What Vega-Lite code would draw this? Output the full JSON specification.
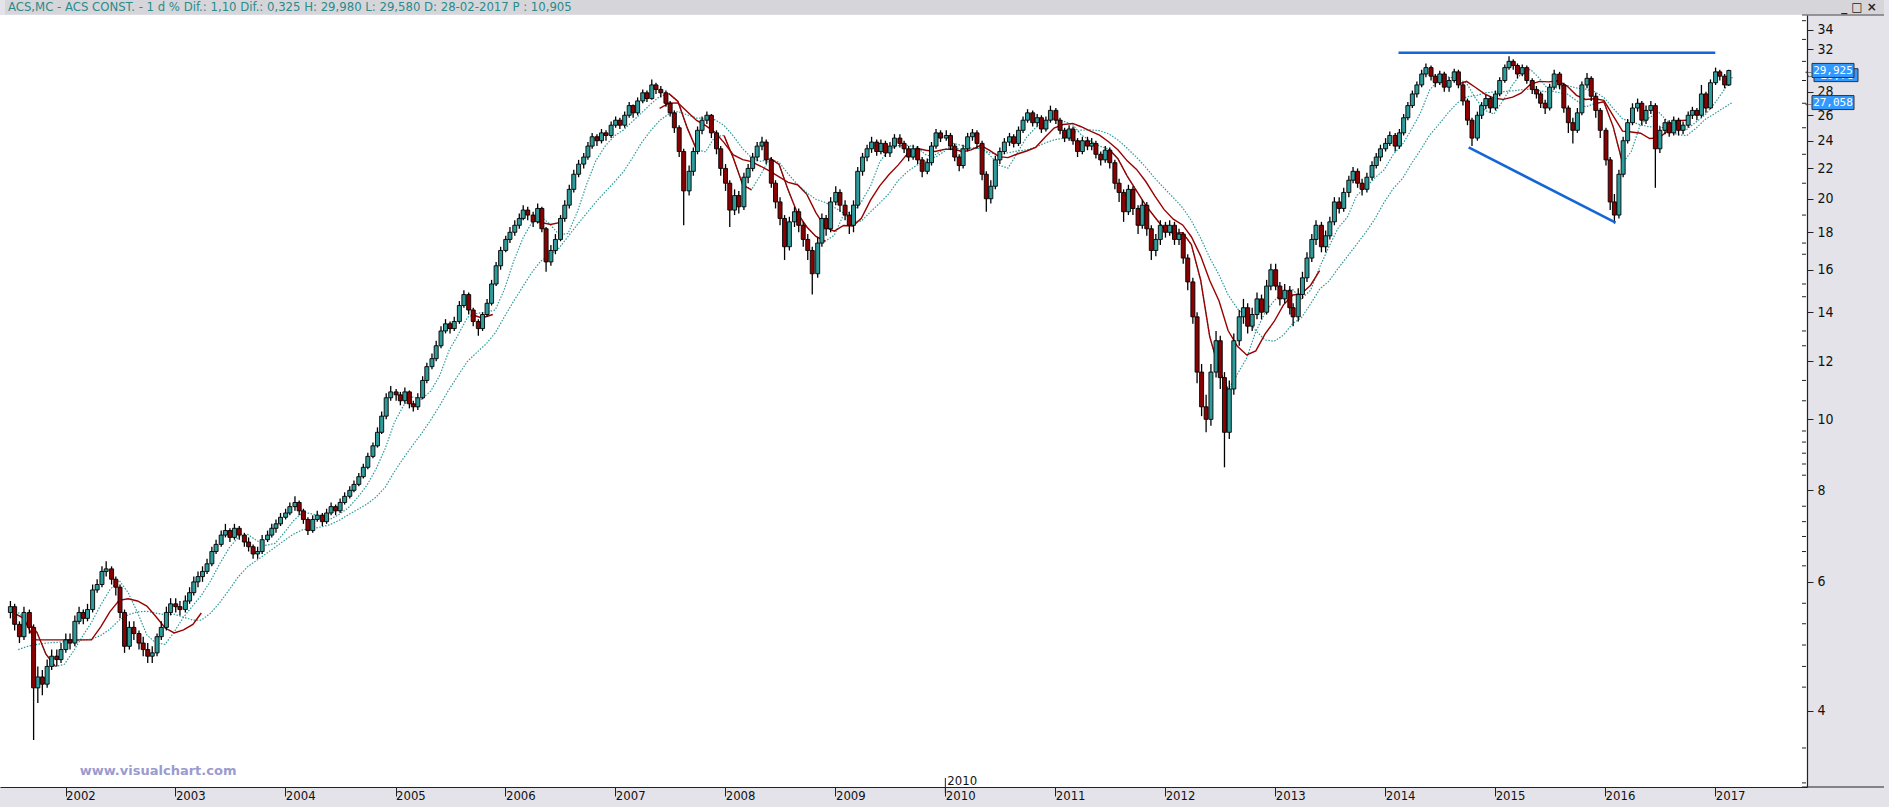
{
"$schema":"https://vega.github.io/schema/vega-lite/v6.json",
"width":1807,"height":772,"autosize":"none",
"padding":{"left":0,"top":15,"right":82,"bottom":20},
"background":"#e4e3ea",
"config":{"view":{"fill":"#ffffff","stroke":null}},
"data":{"values":[{}]},
"datasets":{
"k":[
{"d":"2001-07-02","o":5.45,"h":5.65,"l":5.35,"c":5.55},
{"d":"2001-07-16","o":5.55,"h":5.6,"l":5.15,"c":5.25},
{"d":"2001-08-01","o":5.25,"h":5.3,"l":4.95,"c":5.05},
{"d":"2001-08-16","o":5.05,"h":5.55,"l":5.0,"c":5.45},
{"d":"2001-09-03","o":5.45,"h":5.5,"l":5.1,"c":5.2},
{"d":"2001-09-17","o":5.2,"h":5.25,"l":3.65,"c":4.3},
{"d":"2001-10-01","o":4.3,"h":4.6,"l":4.1,"c":4.45},
{"d":"2001-10-16","o":4.45,"h":4.55,"l":4.2,"c":4.35},
{"d":"2001-11-01","o":4.35,"h":4.7,"l":4.3,"c":4.6},
{"d":"2001-11-16","o":4.6,"h":4.85,"l":4.55,"c":4.75},
{"d":"2001-12-03","o":4.75,"h":4.85,"l":4.6,"c":4.7},
{"d":"2001-12-17","o":4.7,"h":4.95,"l":4.65,"c":4.85},
{"d":"2002-01-02","o":4.85,"h":5.1,"l":4.8,"c":5.0},
{"d":"2002-01-16","o":5.0,"h":5.1,"l":4.85,"c":4.95},
{"d":"2002-02-01","o":4.95,"h":5.4,"l":4.9,"c":5.3},
{"d":"2002-02-15","o":5.3,"h":5.55,"l":5.25,"c":5.45},
{"d":"2002-03-01","o":5.45,"h":5.5,"l":5.25,"c":5.35},
{"d":"2002-03-15","o":5.35,"h":5.6,"l":5.3,"c":5.5},
{"d":"2002-04-01","o":5.5,"h":5.95,"l":5.45,"c":5.85},
{"d":"2002-04-16","o":5.85,"h":6.05,"l":5.8,"c":5.95},
{"d":"2002-05-02","o":5.95,"h":6.3,"l":5.9,"c":6.2},
{"d":"2002-05-16","o":6.2,"h":6.4,"l":6.1,"c":6.25},
{"d":"2002-06-03","o":6.25,"h":6.3,"l":5.95,"c":6.05},
{"d":"2002-06-17","o":6.05,"h":6.1,"l":5.75,"c":5.9},
{"d":"2002-07-01","o":5.9,"h":5.95,"l":5.35,"c":5.45},
{"d":"2002-07-16","o":5.45,"h":5.5,"l":4.8,"c":4.9},
{"d":"2002-08-01","o":4.9,"h":5.3,"l":4.85,"c":5.2},
{"d":"2002-08-16","o":5.2,"h":5.3,"l":5.0,"c":5.1},
{"d":"2002-09-02","o":5.1,"h":5.15,"l":4.85,"c":4.95},
{"d":"2002-09-16","o":4.95,"h":5.05,"l":4.75,"c":4.85},
{"d":"2002-10-01","o":4.85,"h":4.95,"l":4.65,"c":4.75},
{"d":"2002-10-16","o":4.75,"h":4.9,"l":4.65,"c":4.8},
{"d":"2002-11-01","o":4.8,"h":5.1,"l":4.75,"c":5.05},
{"d":"2002-11-15","o":5.05,"h":5.3,"l":5.0,"c":5.2},
{"d":"2002-12-02","o":5.2,"h":5.55,"l":5.15,"c":5.45},
{"d":"2002-12-16","o":5.45,"h":5.7,"l":5.4,"c":5.6},
{"d":"2003-01-02","o":5.6,"h":5.7,"l":5.45,"c":5.55},
{"d":"2003-01-16","o":5.55,"h":5.65,"l":5.4,"c":5.5},
{"d":"2003-02-03","o":5.5,"h":5.75,"l":5.45,"c":5.65},
{"d":"2003-02-17","o":5.65,"h":5.9,"l":5.6,"c":5.8},
{"d":"2003-03-03","o":5.8,"h":6.1,"l":5.75,"c":6.0},
{"d":"2003-03-17","o":6.0,"h":6.2,"l":5.9,"c":6.1},
{"d":"2003-04-01","o":6.1,"h":6.3,"l":6.0,"c":6.2},
{"d":"2003-04-16","o":6.2,"h":6.45,"l":6.15,"c":6.35},
{"d":"2003-05-02","o":6.35,"h":6.7,"l":6.3,"c":6.6},
{"d":"2003-05-16","o":6.6,"h":6.85,"l":6.55,"c":6.75},
{"d":"2003-06-02","o":6.75,"h":7.05,"l":6.7,"c":6.95},
{"d":"2003-06-16","o":6.95,"h":7.2,"l":6.9,"c":7.05},
{"d":"2003-07-01","o":7.05,"h":7.1,"l":6.8,"c":6.9},
{"d":"2003-07-16","o":6.9,"h":7.2,"l":6.85,"c":7.1},
{"d":"2003-08-01","o":7.1,"h":7.15,"l":6.85,"c":6.95},
{"d":"2003-08-18","o":6.95,"h":7.0,"l":6.7,"c":6.8},
{"d":"2003-09-01","o":6.8,"h":6.9,"l":6.6,"c":6.7},
{"d":"2003-09-16","o":6.7,"h":6.75,"l":6.45,"c":6.55},
{"d":"2003-10-01","o":6.55,"h":6.7,"l":6.45,"c":6.6},
{"d":"2003-10-16","o":6.6,"h":6.95,"l":6.55,"c":6.85},
{"d":"2003-11-03","o":6.85,"h":7.05,"l":6.8,"c":6.95},
{"d":"2003-11-17","o":6.95,"h":7.2,"l":6.9,"c":7.1},
{"d":"2003-12-01","o":7.1,"h":7.3,"l":7.0,"c":7.2},
{"d":"2003-12-16","o":7.2,"h":7.45,"l":7.15,"c":7.35},
{"d":"2004-01-02","o":7.35,"h":7.55,"l":7.3,"c":7.45},
{"d":"2004-01-16","o":7.45,"h":7.7,"l":7.4,"c":7.6},
{"d":"2004-02-02","o":7.6,"h":7.85,"l":7.5,"c":7.7},
{"d":"2004-02-16","o":7.7,"h":7.75,"l":7.4,"c":7.5},
{"d":"2004-03-01","o":7.5,"h":7.55,"l":7.2,"c":7.3},
{"d":"2004-03-16","o":7.3,"h":7.35,"l":6.95,"c":7.05},
{"d":"2004-04-01","o":7.05,"h":7.4,"l":7.0,"c":7.3},
{"d":"2004-04-16","o":7.3,"h":7.5,"l":7.25,"c":7.4},
{"d":"2004-05-03","o":7.4,"h":7.45,"l":7.15,"c":7.25},
{"d":"2004-05-17","o":7.25,"h":7.55,"l":7.2,"c":7.45},
{"d":"2004-06-01","o":7.45,"h":7.7,"l":7.4,"c":7.6},
{"d":"2004-06-16","o":7.6,"h":7.65,"l":7.4,"c":7.5},
{"d":"2004-07-01","o":7.5,"h":7.8,"l":7.45,"c":7.7},
{"d":"2004-07-16","o":7.7,"h":7.95,"l":7.65,"c":7.85},
{"d":"2004-08-02","o":7.85,"h":8.1,"l":7.8,"c":8.0},
{"d":"2004-08-16","o":8.0,"h":8.25,"l":7.95,"c":8.15},
{"d":"2004-09-01","o":8.15,"h":8.45,"l":8.1,"c":8.35},
{"d":"2004-09-16","o":8.35,"h":8.7,"l":8.3,"c":8.6},
{"d":"2004-10-01","o":8.6,"h":9.0,"l":8.55,"c":8.9},
{"d":"2004-10-18","o":8.9,"h":9.3,"l":8.85,"c":9.2},
{"d":"2004-11-02","o":9.2,"h":9.75,"l":9.15,"c":9.6},
{"d":"2004-11-16","o":9.6,"h":10.25,"l":9.55,"c":10.1},
{"d":"2004-12-01","o":10.1,"h":10.85,"l":10.0,"c":10.7},
{"d":"2004-12-16","o":10.7,"h":11.1,"l":10.6,"c":10.9},
{"d":"2005-01-03","o":10.9,"h":11.0,"l":10.6,"c":10.8},
{"d":"2005-01-17","o":10.8,"h":10.9,"l":10.45,"c":10.6},
{"d":"2005-02-01","o":10.6,"h":11.05,"l":10.5,"c":10.9},
{"d":"2005-02-16","o":10.9,"h":10.95,"l":10.35,"c":10.5},
{"d":"2005-03-01","o":10.5,"h":10.6,"l":10.25,"c":10.4},
{"d":"2005-03-16","o":10.4,"h":10.85,"l":10.3,"c":10.7},
{"d":"2005-04-01","o":10.7,"h":11.45,"l":10.65,"c":11.3},
{"d":"2005-04-15","o":11.3,"h":11.95,"l":11.2,"c":11.8},
{"d":"2005-05-02","o":11.8,"h":12.3,"l":11.7,"c":12.1},
{"d":"2005-05-16","o":12.1,"h":12.8,"l":12.0,"c":12.6},
{"d":"2005-06-01","o":12.6,"h":13.4,"l":12.5,"c":13.2},
{"d":"2005-06-16","o":13.2,"h":13.7,"l":13.1,"c":13.5},
{"d":"2005-07-01","o":13.5,"h":13.6,"l":13.1,"c":13.3},
{"d":"2005-07-15","o":13.3,"h":13.8,"l":13.2,"c":13.6},
{"d":"2005-08-01","o":13.6,"h":14.5,"l":13.5,"c":14.3},
{"d":"2005-08-16","o":14.3,"h":15.0,"l":14.2,"c":14.8},
{"d":"2005-09-01","o":14.8,"h":14.9,"l":13.9,"c":14.1},
{"d":"2005-09-16","o":14.1,"h":14.2,"l":13.4,"c":13.6},
{"d":"2005-10-03","o":13.6,"h":13.7,"l":13.0,"c":13.3},
{"d":"2005-10-17","o":13.3,"h":14.0,"l":13.2,"c":13.9},
{"d":"2005-11-01","o":13.9,"h":14.6,"l":13.8,"c":14.4},
{"d":"2005-11-16","o":14.4,"h":15.5,"l":14.3,"c":15.3},
{"d":"2005-12-01","o":15.3,"h":16.4,"l":15.2,"c":16.2},
{"d":"2005-12-16","o":16.2,"h":17.2,"l":16.0,"c":17.0},
{"d":"2006-01-02","o":17.0,"h":17.8,"l":16.9,"c":17.6},
{"d":"2006-01-16","o":17.6,"h":18.3,"l":17.4,"c":18.0},
{"d":"2006-02-01","o":18.0,"h":18.7,"l":17.8,"c":18.4},
{"d":"2006-02-16","o":18.4,"h":19.1,"l":18.2,"c":18.8},
{"d":"2006-03-01","o":18.8,"h":19.6,"l":18.7,"c":19.3},
{"d":"2006-03-16","o":19.3,"h":19.5,"l":18.7,"c":19.0},
{"d":"2006-04-03","o":19.0,"h":19.2,"l":18.3,"c":18.6},
{"d":"2006-04-18","o":18.6,"h":19.7,"l":18.5,"c":19.4},
{"d":"2006-05-02","o":19.4,"h":19.5,"l":18.0,"c":18.2},
{"d":"2006-05-16","o":18.2,"h":18.3,"l":15.9,"c":16.4},
{"d":"2006-06-01","o":16.4,"h":17.3,"l":16.2,"c":17.0},
{"d":"2006-06-16","o":17.0,"h":17.9,"l":16.8,"c":17.6},
{"d":"2006-07-03","o":17.6,"h":19.0,"l":17.5,"c":18.8},
{"d":"2006-07-17","o":18.8,"h":19.9,"l":18.6,"c":19.6},
{"d":"2006-08-01","o":19.6,"h":20.9,"l":19.4,"c":20.6},
{"d":"2006-08-16","o":20.6,"h":21.9,"l":20.4,"c":21.6},
{"d":"2006-09-01","o":21.6,"h":22.6,"l":21.4,"c":22.3},
{"d":"2006-09-18","o":22.3,"h":23.1,"l":22.0,"c":22.8},
{"d":"2006-10-02","o":22.8,"h":23.9,"l":22.6,"c":23.6},
{"d":"2006-10-16","o":23.6,"h":24.6,"l":23.4,"c":24.3},
{"d":"2006-11-01","o":24.3,"h":24.5,"l":23.6,"c":24.0},
{"d":"2006-11-16","o":24.0,"h":24.9,"l":23.8,"c":24.6},
{"d":"2006-12-01","o":24.6,"h":24.8,"l":24.0,"c":24.4},
{"d":"2006-12-18","o":24.4,"h":25.5,"l":24.2,"c":25.2},
{"d":"2007-01-02","o":25.2,"h":25.9,"l":25.0,"c":25.6},
{"d":"2007-01-16","o":25.6,"h":25.8,"l":24.9,"c":25.2},
{"d":"2007-02-01","o":25.2,"h":26.3,"l":25.0,"c":26.0},
{"d":"2007-02-16","o":26.0,"h":27.1,"l":25.8,"c":26.8},
{"d":"2007-03-01","o":26.8,"h":26.9,"l":25.8,"c":26.2},
{"d":"2007-03-16","o":26.2,"h":27.5,"l":26.0,"c":27.2},
{"d":"2007-04-02","o":27.2,"h":28.2,"l":27.0,"c":27.9},
{"d":"2007-04-16","o":27.9,"h":28.1,"l":27.1,"c":27.4},
{"d":"2007-05-02","o":27.4,"h":29.1,"l":27.3,"c":28.6},
{"d":"2007-05-16","o":28.6,"h":28.8,"l":27.8,"c":28.2},
{"d":"2007-06-01","o":28.2,"h":28.5,"l":27.5,"c":27.9},
{"d":"2007-06-18","o":27.9,"h":28.1,"l":26.7,"c":27.0},
{"d":"2007-07-02","o":27.0,"h":27.2,"l":25.9,"c":26.2},
{"d":"2007-07-16","o":26.2,"h":26.4,"l":24.6,"c":25.0},
{"d":"2007-08-01","o":25.0,"h":25.2,"l":22.8,"c":23.2},
{"d":"2007-08-16","o":23.2,"h":23.4,"l":18.4,"c":20.5},
{"d":"2007-09-03","o":20.5,"h":22.2,"l":20.2,"c":21.8},
{"d":"2007-09-17","o":21.8,"h":23.5,"l":21.5,"c":23.2},
{"d":"2007-10-01","o":23.2,"h":25.1,"l":23.0,"c":24.8},
{"d":"2007-10-16","o":24.8,"h":25.9,"l":24.5,"c":25.6},
{"d":"2007-11-01","o":25.6,"h":26.3,"l":25.3,"c":26.0},
{"d":"2007-11-16","o":26.0,"h":26.1,"l":24.2,"c":24.6},
{"d":"2007-12-03","o":24.6,"h":24.8,"l":23.0,"c":23.4},
{"d":"2007-12-17","o":23.4,"h":23.6,"l":21.5,"c":22.0},
{"d":"2008-01-02","o":22.0,"h":22.3,"l":20.5,"c":21.0},
{"d":"2008-01-16","o":21.0,"h":21.2,"l":18.3,"c":19.3},
{"d":"2008-02-01","o":19.3,"h":20.6,"l":19.0,"c":20.2},
{"d":"2008-02-15","o":20.2,"h":20.5,"l":19.1,"c":19.5},
{"d":"2008-03-03","o":19.5,"h":21.7,"l":19.3,"c":21.4},
{"d":"2008-03-17","o":21.4,"h":22.3,"l":21.0,"c":22.0},
{"d":"2008-04-01","o":22.0,"h":23.1,"l":21.8,"c":22.8},
{"d":"2008-04-16","o":22.8,"h":23.9,"l":22.5,"c":23.6},
{"d":"2008-05-02","o":23.6,"h":24.3,"l":23.3,"c":23.9},
{"d":"2008-05-16","o":23.9,"h":24.1,"l":22.3,"c":22.6},
{"d":"2008-06-02","o":22.6,"h":22.8,"l":20.7,"c":21.0},
{"d":"2008-06-16","o":21.0,"h":21.2,"l":19.4,"c":19.8},
{"d":"2008-07-01","o":19.8,"h":20.1,"l":18.4,"c":18.8},
{"d":"2008-07-16","o":18.8,"h":19.0,"l":16.5,"c":17.2},
{"d":"2008-08-01","o":17.2,"h":18.9,"l":17.0,"c":18.6},
{"d":"2008-08-18","o":18.6,"h":19.5,"l":18.3,"c":19.2},
{"d":"2008-09-01","o":19.2,"h":19.4,"l":18.0,"c":18.4},
{"d":"2008-09-16","o":18.4,"h":18.6,"l":17.2,"c":17.6},
{"d":"2008-10-01","o":17.6,"h":17.9,"l":16.5,"c":17.0},
{"d":"2008-10-16","o":17.0,"h":17.2,"l":14.8,"c":15.8},
{"d":"2008-11-03","o":15.8,"h":17.7,"l":15.6,"c":17.4},
{"d":"2008-11-17","o":17.4,"h":19.1,"l":17.2,"c":18.8},
{"d":"2008-12-01","o":18.8,"h":19.0,"l":17.8,"c":18.2},
{"d":"2008-12-16","o":18.2,"h":20.1,"l":18.0,"c":19.8},
{"d":"2009-01-02","o":19.8,"h":20.8,"l":19.6,"c":20.4},
{"d":"2009-01-16","o":20.4,"h":20.6,"l":19.2,"c":19.6},
{"d":"2009-02-02","o":19.6,"h":19.9,"l":18.7,"c":19.0},
{"d":"2009-02-16","o":19.0,"h":19.2,"l":17.9,"c":18.4},
{"d":"2009-03-02","o":18.4,"h":19.9,"l":18.0,"c":19.6},
{"d":"2009-03-16","o":19.6,"h":22.1,"l":19.4,"c":21.8},
{"d":"2009-04-01","o":21.8,"h":23.1,"l":21.5,"c":22.8},
{"d":"2009-04-16","o":22.8,"h":23.7,"l":22.5,"c":23.4},
{"d":"2009-05-01","o":23.4,"h":24.3,"l":23.1,"c":23.9},
{"d":"2009-05-18","o":23.9,"h":24.1,"l":22.9,"c":23.2},
{"d":"2009-06-01","o":23.2,"h":24.1,"l":23.0,"c":23.8},
{"d":"2009-06-16","o":23.8,"h":24.0,"l":22.8,"c":23.1},
{"d":"2009-07-01","o":23.1,"h":23.9,"l":22.8,"c":23.6},
{"d":"2009-07-16","o":23.6,"h":24.5,"l":23.4,"c":24.2},
{"d":"2009-08-03","o":24.2,"h":24.5,"l":23.5,"c":23.8},
{"d":"2009-08-17","o":23.8,"h":24.0,"l":23.1,"c":23.4},
{"d":"2009-09-01","o":23.4,"h":23.6,"l":22.5,"c":22.8},
{"d":"2009-09-16","o":22.8,"h":23.7,"l":22.6,"c":23.4},
{"d":"2009-10-01","o":23.4,"h":23.6,"l":22.3,"c":22.6},
{"d":"2009-10-16","o":22.6,"h":22.8,"l":21.4,"c":21.8},
{"d":"2009-11-02","o":21.8,"h":22.7,"l":21.6,"c":22.4},
{"d":"2009-11-16","o":22.4,"h":23.9,"l":22.2,"c":23.6},
{"d":"2009-12-01","o":23.6,"h":24.9,"l":23.4,"c":24.6},
{"d":"2009-12-16","o":24.6,"h":24.8,"l":23.9,"c":24.2},
{"d":"2010-01-04","o":24.2,"h":24.8,"l":24.0,"c":24.4},
{"d":"2010-01-18","o":24.4,"h":24.6,"l":23.3,"c":23.6},
{"d":"2010-02-01","o":23.6,"h":23.8,"l":22.5,"c":22.8},
{"d":"2010-02-16","o":22.8,"h":23.0,"l":21.8,"c":22.2},
{"d":"2010-03-01","o":22.2,"h":23.7,"l":22.0,"c":23.4},
{"d":"2010-03-16","o":23.4,"h":24.6,"l":23.2,"c":24.3},
{"d":"2010-04-01","o":24.3,"h":24.9,"l":24.0,"c":24.6},
{"d":"2010-04-16","o":24.6,"h":24.8,"l":23.4,"c":23.8},
{"d":"2010-05-03","o":23.8,"h":24.0,"l":21.2,"c":21.6},
{"d":"2010-05-17","o":21.6,"h":21.8,"l":19.2,"c":20.0},
{"d":"2010-06-01","o":20.0,"h":21.2,"l":19.7,"c":20.8},
{"d":"2010-06-16","o":20.8,"h":22.9,"l":20.6,"c":22.6},
{"d":"2010-07-01","o":22.6,"h":23.5,"l":22.3,"c":23.2},
{"d":"2010-07-16","o":23.2,"h":24.2,"l":23.0,"c":23.9},
{"d":"2010-08-02","o":23.9,"h":24.6,"l":23.6,"c":24.3},
{"d":"2010-08-16","o":24.3,"h":24.5,"l":23.5,"c":23.8},
{"d":"2010-09-01","o":23.8,"h":25.1,"l":23.6,"c":24.8},
{"d":"2010-09-16","o":24.8,"h":25.9,"l":24.6,"c":25.6},
{"d":"2010-10-01","o":25.6,"h":26.5,"l":25.4,"c":26.2},
{"d":"2010-10-18","o":26.2,"h":26.4,"l":25.1,"c":25.4},
{"d":"2010-11-02","o":25.4,"h":26.1,"l":25.1,"c":25.8},
{"d":"2010-11-16","o":25.8,"h":26.0,"l":24.6,"c":24.9},
{"d":"2010-12-01","o":24.9,"h":25.9,"l":24.7,"c":25.6},
{"d":"2010-12-16","o":25.6,"h":26.8,"l":25.4,"c":26.4},
{"d":"2011-01-03","o":26.4,"h":26.6,"l":25.3,"c":25.6},
{"d":"2011-01-17","o":25.6,"h":25.8,"l":24.5,"c":24.8},
{"d":"2011-02-01","o":24.8,"h":25.0,"l":23.9,"c":24.2},
{"d":"2011-02-16","o":24.2,"h":25.2,"l":24.0,"c":24.9},
{"d":"2011-03-01","o":24.9,"h":25.1,"l":23.7,"c":24.0},
{"d":"2011-03-16","o":24.0,"h":24.2,"l":22.8,"c":23.2},
{"d":"2011-04-01","o":23.2,"h":24.3,"l":23.0,"c":24.0},
{"d":"2011-04-18","o":24.0,"h":24.3,"l":23.3,"c":23.6},
{"d":"2011-05-02","o":23.6,"h":24.2,"l":23.3,"c":23.8},
{"d":"2011-05-16","o":23.8,"h":24.0,"l":22.7,"c":23.0},
{"d":"2011-06-01","o":23.0,"h":23.2,"l":22.2,"c":22.6},
{"d":"2011-06-16","o":22.6,"h":23.6,"l":22.4,"c":23.3},
{"d":"2011-07-01","o":23.3,"h":23.5,"l":22.0,"c":22.4},
{"d":"2011-07-18","o":22.4,"h":22.6,"l":20.6,"c":21.0},
{"d":"2011-08-01","o":21.0,"h":21.3,"l":19.8,"c":20.4},
{"d":"2011-08-16","o":20.4,"h":20.6,"l":18.6,"c":19.2},
{"d":"2011-09-01","o":19.2,"h":20.9,"l":19.0,"c":20.6},
{"d":"2011-09-16","o":20.6,"h":20.8,"l":19.0,"c":19.4},
{"d":"2011-10-03","o":19.4,"h":19.6,"l":17.9,"c":18.4},
{"d":"2011-10-17","o":18.4,"h":19.9,"l":18.2,"c":19.6},
{"d":"2011-11-01","o":19.6,"h":19.8,"l":17.8,"c":18.2},
{"d":"2011-11-16","o":18.2,"h":18.4,"l":16.5,"c":17.0},
{"d":"2011-12-01","o":17.0,"h":17.9,"l":16.7,"c":17.6},
{"d":"2011-12-16","o":17.6,"h":18.7,"l":17.3,"c":18.4},
{"d":"2012-01-02","o":18.4,"h":18.6,"l":17.7,"c":18.0},
{"d":"2012-01-16","o":18.0,"h":18.7,"l":17.8,"c":18.4},
{"d":"2012-02-01","o":18.4,"h":18.6,"l":17.3,"c":17.6},
{"d":"2012-02-16","o":17.6,"h":18.2,"l":17.3,"c":17.9},
{"d":"2012-03-01","o":17.9,"h":18.0,"l":16.3,"c":16.6},
{"d":"2012-03-16","o":16.6,"h":16.8,"l":15.0,"c":15.4},
{"d":"2012-04-02","o":15.4,"h":15.6,"l":13.5,"c":13.8},
{"d":"2012-04-16","o":13.8,"h":14.0,"l":11.2,"c":11.6},
{"d":"2012-05-01","o":11.6,"h":11.9,"l":10.1,"c":10.4},
{"d":"2012-05-16","o":10.4,"h":10.8,"l":9.6,"c":10.0},
{"d":"2012-06-01","o":10.0,"h":11.9,"l":9.8,"c":11.6},
{"d":"2012-06-18","o":11.6,"h":13.2,"l":11.4,"c":12.8},
{"d":"2012-07-02","o":12.8,"h":13.0,"l":11.0,"c":11.4},
{"d":"2012-07-16","o":11.4,"h":11.6,"l":8.6,"c":9.6},
{"d":"2012-08-01","o":9.6,"h":11.3,"l":9.4,"c":11.0},
{"d":"2012-08-16","o":11.0,"h":13.1,"l":10.8,"c":12.8},
{"d":"2012-09-03","o":12.8,"h":14.1,"l":12.6,"c":13.8},
{"d":"2012-09-17","o":13.8,"h":14.6,"l":13.5,"c":14.2},
{"d":"2012-10-01","o":14.2,"h":14.4,"l":13.1,"c":13.4},
{"d":"2012-10-16","o":13.4,"h":14.2,"l":13.2,"c":13.9},
{"d":"2012-11-01","o":13.9,"h":14.9,"l":13.7,"c":14.6},
{"d":"2012-11-16","o":14.6,"h":14.8,"l":13.7,"c":14.0},
{"d":"2012-12-03","o":14.0,"h":15.5,"l":13.9,"c":15.2},
{"d":"2012-12-17","o":15.2,"h":16.3,"l":15.0,"c":16.0},
{"d":"2013-01-02","o":16.0,"h":16.3,"l":15.0,"c":15.2},
{"d":"2013-01-16","o":15.2,"h":15.4,"l":14.3,"c":14.6},
{"d":"2013-02-01","o":14.6,"h":15.3,"l":14.4,"c":15.0},
{"d":"2013-02-18","o":15.0,"h":15.2,"l":13.9,"c":14.2},
{"d":"2013-03-01","o":14.2,"h":14.4,"l":13.4,"c":13.8},
{"d":"2013-03-18","o":13.8,"h":15.1,"l":13.6,"c":14.8},
{"d":"2013-04-01","o":14.8,"h":15.9,"l":14.6,"c":15.6},
{"d":"2013-04-16","o":15.6,"h":16.9,"l":15.4,"c":16.6},
{"d":"2013-05-02","o":16.6,"h":17.9,"l":16.4,"c":17.6},
{"d":"2013-05-16","o":17.6,"h":18.7,"l":17.3,"c":18.4},
{"d":"2013-06-03","o":18.4,"h":18.6,"l":16.9,"c":17.2},
{"d":"2013-06-17","o":17.2,"h":18.1,"l":16.9,"c":17.8},
{"d":"2013-07-01","o":17.8,"h":18.9,"l":17.6,"c":18.6},
{"d":"2013-07-16","o":18.6,"h":20.1,"l":18.4,"c":19.8},
{"d":"2013-08-01","o":19.8,"h":20.1,"l":19.1,"c":19.4},
{"d":"2013-08-16","o":19.4,"h":20.7,"l":19.2,"c":20.4},
{"d":"2013-09-02","o":20.4,"h":21.5,"l":20.1,"c":21.2},
{"d":"2013-09-16","o":21.2,"h":22.1,"l":21.0,"c":21.8},
{"d":"2013-10-01","o":21.8,"h":22.0,"l":20.7,"c":21.0},
{"d":"2013-10-16","o":21.0,"h":21.3,"l":20.2,"c":20.6},
{"d":"2013-11-01","o":20.6,"h":21.7,"l":20.4,"c":21.4},
{"d":"2013-11-18","o":21.4,"h":22.5,"l":21.2,"c":22.2},
{"d":"2013-12-02","o":22.2,"h":23.1,"l":22.0,"c":22.8},
{"d":"2013-12-16","o":22.8,"h":23.7,"l":22.5,"c":23.4},
{"d":"2014-01-02","o":23.4,"h":24.2,"l":23.2,"c":23.8},
{"d":"2014-01-16","o":23.8,"h":24.7,"l":23.6,"c":24.4},
{"d":"2014-02-03","o":24.4,"h":24.6,"l":23.2,"c":23.6},
{"d":"2014-02-17","o":23.6,"h":24.9,"l":23.4,"c":24.6},
{"d":"2014-03-03","o":24.6,"h":26.1,"l":24.4,"c":25.8},
{"d":"2014-03-17","o":25.8,"h":27.1,"l":25.6,"c":26.8},
{"d":"2014-04-01","o":26.8,"h":28.1,"l":26.6,"c":27.8},
{"d":"2014-04-16","o":27.8,"h":28.9,"l":27.5,"c":28.6},
{"d":"2014-05-02","o":28.6,"h":30.0,"l":28.4,"c":29.6},
{"d":"2014-05-16","o":29.6,"h":30.6,"l":29.3,"c":30.2},
{"d":"2014-06-02","o":30.2,"h":30.4,"l":29.0,"c":29.4},
{"d":"2014-06-16","o":29.4,"h":29.6,"l":28.4,"c":28.8},
{"d":"2014-07-01","o":28.8,"h":29.9,"l":28.6,"c":29.6},
{"d":"2014-07-16","o":29.6,"h":29.8,"l":28.0,"c":28.4},
{"d":"2014-08-01","o":28.4,"h":29.3,"l":28.0,"c":29.0},
{"d":"2014-08-18","o":29.0,"h":30.1,"l":28.8,"c":29.8},
{"d":"2014-09-01","o":29.8,"h":30.0,"l":28.3,"c":28.6},
{"d":"2014-09-16","o":28.6,"h":28.8,"l":26.8,"c":27.2},
{"d":"2014-10-01","o":27.2,"h":27.4,"l":25.2,"c":25.6},
{"d":"2014-10-16","o":25.6,"h":25.8,"l":23.6,"c":24.2},
{"d":"2014-11-03","o":24.2,"h":26.3,"l":24.0,"c":26.0},
{"d":"2014-11-17","o":26.0,"h":27.1,"l":25.7,"c":26.8},
{"d":"2014-12-01","o":26.8,"h":27.7,"l":26.5,"c":27.4},
{"d":"2014-12-16","o":27.4,"h":27.6,"l":26.2,"c":26.6},
{"d":"2015-01-02","o":26.6,"h":28.1,"l":26.4,"c":27.8},
{"d":"2015-01-16","o":27.8,"h":29.3,"l":27.6,"c":29.0},
{"d":"2015-02-02","o":29.0,"h":30.5,"l":28.8,"c":30.2},
{"d":"2015-02-16","o":30.2,"h":31.3,"l":30.0,"c":30.8},
{"d":"2015-03-02","o":30.8,"h":31.0,"l":30.0,"c":30.4},
{"d":"2015-03-16","o":30.4,"h":30.6,"l":29.2,"c":29.6},
{"d":"2015-04-01","o":29.6,"h":30.5,"l":29.4,"c":30.2},
{"d":"2015-04-16","o":30.2,"h":30.4,"l":28.7,"c":29.0},
{"d":"2015-05-04","o":29.0,"h":29.2,"l":27.8,"c":28.2},
{"d":"2015-05-18","o":28.2,"h":28.5,"l":27.4,"c":27.8},
{"d":"2015-06-01","o":27.8,"h":28.0,"l":26.6,"c":27.0},
{"d":"2015-06-16","o":27.0,"h":27.3,"l":26.1,"c":26.6},
{"d":"2015-07-01","o":26.6,"h":28.7,"l":26.4,"c":28.4},
{"d":"2015-07-16","o":28.4,"h":30.0,"l":28.2,"c":29.6},
{"d":"2015-08-03","o":29.6,"h":29.8,"l":28.2,"c":28.6},
{"d":"2015-08-17","o":28.6,"h":28.8,"l":26.2,"c":26.6},
{"d":"2015-09-01","o":26.6,"h":26.8,"l":24.6,"c":25.4},
{"d":"2015-09-16","o":25.4,"h":25.8,"l":23.8,"c":24.8},
{"d":"2015-10-01","o":24.8,"h":26.6,"l":24.6,"c":26.2},
{"d":"2015-10-16","o":26.2,"h":28.9,"l":26.0,"c":28.6},
{"d":"2015-11-02","o":28.6,"h":29.7,"l":28.3,"c":29.2},
{"d":"2015-11-16","o":29.2,"h":29.4,"l":27.2,"c":27.6},
{"d":"2015-12-01","o":27.6,"h":27.9,"l":25.8,"c":26.4},
{"d":"2015-12-16","o":26.4,"h":26.6,"l":24.2,"c":24.8},
{"d":"2016-01-04","o":24.8,"h":25.0,"l":22.2,"c":22.6},
{"d":"2016-01-18","o":22.6,"h":22.8,"l":19.3,"c":19.8},
{"d":"2016-02-01","o":19.8,"h":20.3,"l":18.5,"c":19.0},
{"d":"2016-02-16","o":19.0,"h":21.9,"l":18.8,"c":21.6},
{"d":"2016-03-01","o":21.6,"h":24.3,"l":21.4,"c":24.0},
{"d":"2016-03-16","o":24.0,"h":25.7,"l":23.8,"c":25.4},
{"d":"2016-04-01","o":25.4,"h":27.0,"l":25.2,"c":26.6},
{"d":"2016-04-18","o":26.6,"h":27.4,"l":26.3,"c":27.0},
{"d":"2016-05-02","o":27.0,"h":27.2,"l":25.2,"c":25.6},
{"d":"2016-05-16","o":25.6,"h":26.8,"l":25.3,"c":26.4},
{"d":"2016-06-01","o":26.4,"h":27.2,"l":26.1,"c":26.8},
{"d":"2016-06-16","o":26.8,"h":27.0,"l":20.7,"c":23.4},
{"d":"2016-07-01","o":23.4,"h":25.1,"l":23.1,"c":24.8},
{"d":"2016-07-18","o":24.8,"h":25.7,"l":24.5,"c":25.4},
{"d":"2016-08-01","o":25.4,"h":25.6,"l":24.3,"c":24.6},
{"d":"2016-08-16","o":24.6,"h":25.9,"l":24.4,"c":25.6},
{"d":"2016-09-01","o":25.6,"h":25.8,"l":24.4,"c":24.8},
{"d":"2016-09-16","o":24.8,"h":25.5,"l":24.5,"c":25.2},
{"d":"2016-10-03","o":25.2,"h":26.3,"l":25.0,"c":26.0},
{"d":"2016-10-17","o":26.0,"h":26.7,"l":25.7,"c":26.4},
{"d":"2016-11-01","o":26.4,"h":26.6,"l":25.6,"c":26.0},
{"d":"2016-11-16","o":26.0,"h":28.6,"l":25.8,"c":27.8},
{"d":"2016-12-01","o":27.8,"h":28.0,"l":26.2,"c":26.6},
{"d":"2016-12-16","o":26.6,"h":29.1,"l":26.5,"c":28.8},
{"d":"2017-01-02","o":28.8,"h":30.2,"l":28.6,"c":29.8},
{"d":"2017-01-16","o":29.8,"h":30.0,"l":29.0,"c":29.4},
{"d":"2017-02-01","o":29.4,"h":29.6,"l":28.3,"c":28.6},
{"d":"2017-02-15","o":28.6,"h":30.0,"l":28.5,"c":29.93}
],
"ma":[
{"d":"2001-07-28","f":5.45,"s":4.85},{"d":"2001-08-28","f":5.3,"s":4.9},{"d":"2001-09-28","f":5.12,"s":4.93},{"d":"2001-10-28","f":4.78,"s":4.95},{"d":"2001-11-28","f":4.6,"s":4.96},{"d":"2001-12-28","f":4.63,"s":4.97},
{"d":"2002-01-28","f":4.83,"s":4.98},{"d":"2002-02-28","f":5.07,"s":5.0},{"d":"2002-03-28","f":5.28,"s":5.01},{"d":"2002-04-28","f":5.58,"s":5.07},{"d":"2002-05-28","f":5.85,"s":5.17},{"d":"2002-06-28","f":6.03,"s":5.32},{"d":"2002-07-28","f":5.8,"s":5.41},{"d":"2002-08-28","f":5.45,"s":5.46},{"d":"2002-09-28","f":5.08,"s":5.47},{"d":"2002-10-28","f":4.95,"s":5.44},{"d":"2002-11-28","f":4.93,"s":5.41},{"d":"2002-12-28","f":5.13,"s":5.42},
{"d":"2003-01-28","f":5.37,"s":5.37},{"d":"2003-02-28","f":5.57,"s":5.32},{"d":"2003-03-28","f":5.75,"s":5.32},{"d":"2003-04-28","f":6.02,"s":5.44},{"d":"2003-05-28","f":6.35,"s":5.62},{"d":"2003-06-28","f":6.67,"s":5.85},{"d":"2003-07-28","f":6.9,"s":6.09},{"d":"2003-08-28","f":6.97,"s":6.29},{"d":"2003-09-28","f":6.83,"s":6.42},{"d":"2003-10-28","f":6.73,"s":6.55},{"d":"2003-11-28","f":6.77,"s":6.69},{"d":"2003-12-28","f":7.0,"s":6.83},
{"d":"2004-01-28","f":7.27,"s":6.97},{"d":"2004-02-28","f":7.47,"s":7.07},{"d":"2004-03-28","f":7.43,"s":7.09},{"d":"2004-04-28","f":7.38,"s":7.13},{"d":"2004-05-28","f":7.3,"s":7.18},{"d":"2004-06-28","f":7.42,"s":7.28},{"d":"2004-07-28","f":7.57,"s":7.41},{"d":"2004-08-28","f":7.82,"s":7.53},{"d":"2004-09-28","f":8.13,"s":7.66},{"d":"2004-10-28","f":8.55,"s":7.83},{"d":"2004-11-28","f":9.13,"s":8.08},{"d":"2004-12-28","f":9.9,"s":8.48},
{"d":"2005-01-28","f":10.45,"s":8.86},{"d":"2005-02-28","f":10.73,"s":9.23},{"d":"2005-03-28","f":10.65,"s":9.56},{"d":"2005-04-28","f":10.93,"s":9.98},{"d":"2005-05-28","f":11.48,"s":10.45},{"d":"2005-06-28","f":12.42,"s":10.99},{"d":"2005-07-28","f":13.05,"s":11.48},{"d":"2005-08-28","f":13.78,"s":12.0},{"d":"2005-09-28","f":13.95,"s":12.34},{"d":"2005-10-28","f":14.0,"s":12.66},{"d":"2005-11-28","f":14.1,"s":13.12},{"d":"2005-12-28","f":15.02,"s":13.79},
{"d":"2006-01-28","f":16.42,"s":14.49},{"d":"2006-02-28","f":17.67,"s":15.18},{"d":"2006-03-28","f":18.52,"s":15.83},{"d":"2006-04-28","f":18.92,"s":16.44},{"d":"2006-05-28","f":18.48,"s":16.75},{"d":"2006-06-28","f":17.87,"s":17.13},{"d":"2006-07-28","f":17.93,"s":17.76},{"d":"2006-08-28","f":19.2,"s":18.45},{"d":"2006-09-28","f":20.95,"s":19.11},{"d":"2006-10-28","f":22.53,"s":19.79},{"d":"2006-11-28","f":23.6,"s":20.43},{"d":"2006-12-28","f":24.35,"s":21.06},
{"d":"2007-01-28","f":24.83,"s":21.77},{"d":"2007-02-28","f":25.53,"s":22.78},{"d":"2007-03-28","f":26.17,"s":23.82},{"d":"2007-04-28","f":26.92,"s":24.76},{"d":"2007-05-28","f":27.58,"s":25.57},{"d":"2007-06-28","f":27.83,"s":26.12},{"d":"2007-07-28","f":27.15,"s":26.3},{"d":"2007-08-28","f":24.97,"s":26.03},{"d":"2007-09-28","f":23.32,"s":25.77},{"d":"2007-10-28","f":23.18,"s":25.75},{"d":"2007-11-28","f":24.33,"s":25.63},{"d":"2007-12-28","f":24.4,"s":25.18},
{"d":"2008-01-28","f":22.72,"s":24.35},{"d":"2008-02-28","f":20.9,"s":23.4},{"d":"2008-03-28","f":20.57,"s":22.76},{"d":"2008-04-28","f":21.58,"s":22.49},{"d":"2008-05-28","f":22.72,"s":22.65},{"d":"2008-06-28","f":22.28,"s":22.42},{"d":"2008-07-28","f":20.55,"s":21.62},{"d":"2008-08-28","f":19.1,"s":20.91},{"d":"2008-09-28","f":18.3,"s":20.38},{"d":"2008-10-28","f":17.77,"s":19.97},{"d":"2008-11-28","f":17.5,"s":19.77},{"d":"2008-12-28","f":17.83,"s":19.47},
{"d":"2009-01-28","f":19.03,"s":19.12},{"d":"2009-02-28","f":19.23,"s":18.61},{"d":"2009-03-28","f":19.8,"s":18.64},{"d":"2009-04-28","f":20.83,"s":19.21},{"d":"2009-05-28","f":22.45,"s":19.73},{"d":"2009-06-28","f":23.37,"s":20.33},{"d":"2009-07-28","f":23.63,"s":21.17},{"d":"2009-08-28","f":23.65,"s":21.78},{"d":"2009-09-28","f":23.53,"s":22.23},{"d":"2009-10-28","f":22.97,"s":22.48},{"d":"2009-11-28","f":22.77,"s":22.96},{"d":"2009-12-28","f":23.2,"s":23.37},
{"d":"2010-01-28","f":23.8,"s":23.47},{"d":"2010-02-28","f":23.63,"s":23.35},{"d":"2010-03-28","f":23.45,"s":23.39},{"d":"2010-04-28","f":23.52,"s":23.43},{"d":"2010-05-28","f":22.95,"s":23.12},{"d":"2010-06-28","f":22.23,"s":22.96},{"d":"2010-07-28","f":22.02,"s":23.11},{"d":"2010-08-28","f":23.1,"s":23.23},{"d":"2010-09-28","f":24.27,"s":23.32},{"d":"2010-10-28","f":25.02,"s":23.52},{"d":"2010-11-28","f":25.45,"s":23.83},{"d":"2010-12-28","f":25.72,"s":24.07},
{"d":"2011-01-28","f":25.52,"s":24.18},{"d":"2011-02-28","f":25.25,"s":24.6},{"d":"2011-03-28","f":24.45,"s":24.81},{"d":"2011-04-28","f":23.98,"s":24.84},{"d":"2011-05-28","f":23.6,"s":24.77},{"d":"2011-06-28","f":23.38,"s":24.52},{"d":"2011-07-28","f":22.68,"s":24.06},{"d":"2011-08-28","f":21.48,"s":23.44},{"d":"2011-09-28","f":20.5,"s":22.78},{"d":"2011-10-28","f":19.6,"s":22.09},{"d":"2011-11-28","f":18.87,"s":21.32},{"d":"2011-12-28","f":18.2,"s":20.69},
{"d":"2012-01-28","f":17.93,"s":20.07},{"d":"2012-02-28","f":17.98,"s":19.44},{"d":"2012-03-28","f":17.32,"s":18.67},{"d":"2012-04-28","f":15.48,"s":17.67},{"d":"2012-05-28","f":12.97,"s":16.61},{"d":"2012-06-28","f":11.7,"s":15.74},{"d":"2012-07-28","f":10.97,"s":14.79},{"d":"2012-08-28","f":11.53,"s":14.16},{"d":"2012-09-28","f":12.13,"s":13.72},{"d":"2012-10-28","f":13.18,"s":13.21},{"d":"2012-11-28","f":13.98,"s":12.83},{"d":"2012-12-28","f":14.52,"s":12.78},
{"d":"2013-01-28","f":14.93,"s":13.03},{"d":"2013-02-28","f":15.03,"s":13.52},{"d":"2013-03-28","f":14.6,"s":13.75},{"d":"2013-04-28","f":15.0,"s":14.37},{"d":"2013-05-28","f":16.13,"s":15.05},{"d":"2013-06-28","f":17.2,"s":15.44},{"d":"2013-07-28","f":18.23,"s":16.06},{"d":"2013-08-28","f":18.87,"s":16.68},{"d":"2013-09-28","f":20.2,"s":17.33},{"d":"2013-10-28","f":20.73,"s":17.99},{"d":"2013-11-28","f":21.37,"s":18.79},{"d":"2013-12-28","f":21.9,"s":19.77},
{"d":"2014-01-28","f":23.0,"s":20.66},{"d":"2014-02-28","f":23.77,"s":21.33},{"d":"2014-03-28","f":24.83,"s":22.31},{"d":"2014-04-28","f":26.2,"s":23.31},{"d":"2014-05-28","f":28.13,"s":24.42},{"d":"2014-06-28","f":29.07,"s":25.27},{"d":"2014-07-28","f":29.33,"s":26.18},{"d":"2014-08-28","f":29.17,"s":27.02},{"d":"2014-09-28","f":28.77,"s":27.56},{"d":"2014-10-28","f":27.4,"s":27.64},{"d":"2014-11-28","f":26.4,"s":27.9},{"d":"2014-12-28","f":26.1,"s":27.98},
{"d":"2015-01-28","f":27.27,"s":28.0},{"d":"2015-02-28","f":28.63,"s":28.07},{"d":"2015-03-28","f":29.63,"s":28.17},{"d":"2015-04-28","f":30.03,"s":28.23},{"d":"2015-05-28","f":29.2,"s":28.08},{"d":"2015-06-28","f":28.13,"s":27.96},{"d":"2015-07-28","f":27.93,"s":28.41},{"d":"2015-08-28","f":27.8,"s":28.54},{"d":"2015-09-28","f":27.23,"s":28.33},{"d":"2015-10-28","f":26.7,"s":28.22},{"d":"2015-11-28","f":26.97,"s":27.99},{"d":"2015-12-28","f":27.13,"s":27.5},
{"d":"2016-01-28","f":25.07,"s":26.57},{"d":"2016-02-28","f":22.37,"s":25.71},{"d":"2016-03-28","f":23.2,"s":25.48},{"d":"2016-04-28","f":25.3,"s":25.23},{"d":"2016-05-28","f":25.83,"s":25.06},{"d":"2016-06-28","f":26.23,"s":25.14},{"d":"2016-07-28","f":25.47,"s":24.82},{"d":"2016-08-28","f":25.17,"s":24.46},{"d":"2016-09-28","f":24.87,"s":24.39},{"d":"2016-10-28","f":25.43,"s":24.94},{"d":"2016-11-28","f":26.03,"s":25.66},{"d":"2016-12-28","f":26.93,"s":26.1},
{"d":"2017-01-28","f":28.07,"s":26.6},{"d":"2017-02-27","f":29.3,"s":27.06}
],
"red":[
{"d":"2001-07-10","v":5.45,"g":"r1"},{"d":"2001-08-15","v":5.35,"g":"r1"},{"d":"2001-09-10","v":5.1,"g":"r1"},{"d":"2001-09-25","v":5.0,"g":"r1"},{"d":"2002-01-15","v":5.0,"g":"r1"},{"d":"2002-03-28","v":5.0,"g":"r1"},{"d":"2002-04-28","v":5.21,"g":"r1"},{"d":"2002-05-28","v":5.46,"g":"r1"},{"d":"2002-06-28","v":5.66,"g":"r1"},{"d":"2002-07-28","v":5.69,"g":"r1"},{"d":"2002-08-28","v":5.65,"g":"r1"},{"d":"2002-09-28","v":5.56,"g":"r1"},{"d":"2002-10-28","v":5.38,"g":"r1"},{"d":"2002-11-28","v":5.19,"g":"r1"},{"d":"2002-12-28","v":5.11,"g":"r1"},{"d":"2003-01-28","v":5.16,"g":"r1"},{"d":"2003-02-28","v":5.25,"g":"r1"},{"d":"2003-03-28","v":5.44,"g":"r1"},
{"d":"2005-09-10","v":13.9,"g":"r2"},{"d":"2005-10-15","v":13.75,"g":"r2"},{"d":"2005-11-20","v":13.9,"g":"r2"},
{"d":"2006-04-20","v":18.6,"g":"r3"},{"d":"2006-05-31","v":18.45,"g":"r3"},{"d":"2006-07-10","v":18.6,"g":"r3"},
{"d":"2007-05-28","v":26.56,"g":"r4"},{"d":"2007-06-28","v":27.0,"g":"r4"},{"d":"2007-07-28","v":27.03,"g":"r4"},{"d":"2007-08-28","v":26.28,"g":"r4"},{"d":"2007-09-28","v":25.58,"g":"r4"},{"d":"2007-10-28","v":25.17,"g":"r4"},{"d":"2007-11-28","v":24.65,"g":"r4"},{"d":"2007-12-28","v":23.86,"g":"r4"},
{"d":"2008-01-28","v":22.95,"g":"r4"},{"d":"2008-02-28","v":22.62,"g":"r4"},{"d":"2008-03-28","v":22.48,"g":"r4"},{"d":"2008-04-28","v":22.15,"g":"r4"},{"d":"2008-05-28","v":21.81,"g":"r4"},{"d":"2008-06-28","v":21.42,"g":"r4"},{"d":"2008-07-28","v":21.06,"g":"r4"},{"d":"2008-08-28","v":20.9,"g":"r4"},{"d":"2008-09-28","v":20.28,"g":"r4"},{"d":"2008-10-28","v":19.15,"g":"r4"},{"d":"2008-11-28","v":18.29,"g":"r4"},{"d":"2008-12-28","v":18.06,"g":"r4"},
{"d":"2009-01-28","v":18.39,"g":"r4"},{"d":"2009-02-28","v":18.36,"g":"r4"},{"d":"2009-03-28","v":18.81,"g":"r4"},{"d":"2009-04-28","v":19.93,"g":"r4"},{"d":"2009-05-28","v":20.83,"g":"r4"},{"d":"2009-06-28","v":21.58,"g":"r4"},{"d":"2009-07-28","v":22.23,"g":"r4"},{"d":"2009-08-28","v":23.04,"g":"r4"},{"d":"2009-09-28","v":23.44,"g":"r4"},{"d":"2009-10-28","v":23.29,"g":"r4"},{"d":"2009-11-28","v":23.2,"g":"r4"},{"d":"2009-12-28","v":23.36,"g":"r4"},
{"d":"2010-01-28","v":23.38,"g":"r4"},{"d":"2010-02-28","v":23.19,"g":"r4"},{"d":"2010-03-28","v":23.32,"g":"r4"},{"d":"2010-04-28","v":23.65,"g":"r4"},{"d":"2010-05-28","v":23.28,"g":"r4"},{"d":"2010-06-28","v":22.83,"g":"r4"},{"d":"2010-07-28","v":22.76,"g":"r4"},{"d":"2010-08-28","v":23.02,"g":"r4"},{"d":"2010-09-28","v":23.24,"g":"r4"},{"d":"2010-10-28","v":23.51,"g":"r4"},{"d":"2010-11-28","v":24.27,"g":"r4"},{"d":"2010-12-28","v":24.98,"g":"r4"},
{"d":"2011-01-28","v":25.26,"g":"r4"},{"d":"2011-02-28","v":25.34,"g":"r4"},{"d":"2011-03-28","v":25.08,"g":"r4"},{"d":"2011-04-28","v":24.74,"g":"r4"},{"d":"2011-05-28","v":24.42,"g":"r4"},{"d":"2011-06-28","v":23.91,"g":"r4"},{"d":"2011-07-28","v":23.33,"g":"r4"},{"d":"2011-08-28","v":22.53,"g":"r4"},{"d":"2011-09-28","v":21.93,"g":"r4"},{"d":"2011-10-28","v":21.13,"g":"r4"},{"d":"2011-11-28","v":20.17,"g":"r4"},{"d":"2011-12-28","v":19.34,"g":"r4"},
{"d":"2012-01-28","v":18.76,"g":"r4"},{"d":"2012-02-28","v":18.42,"g":"r4"},{"d":"2012-03-28","v":17.75,"g":"r4"},{"d":"2012-04-28","v":16.7,"g":"r4"},{"d":"2012-05-28","v":15.47,"g":"r4"},{"d":"2012-06-28","v":14.5,"g":"r4"},{"d":"2012-07-28","v":13.22,"g":"r4"},{"d":"2012-08-28","v":12.58,"g":"r4"},{"d":"2012-09-28","v":12.24,"g":"r4"},{"d":"2012-10-28","v":12.4,"g":"r4"},{"d":"2012-11-28","v":13.08,"g":"r4"},{"d":"2012-12-28","v":13.6,"g":"r4"},
{"d":"2013-01-28","v":14.33,"g":"r4"},{"d":"2013-02-28","v":14.78,"g":"r4"},{"d":"2013-03-28","v":14.83,"g":"r4"},{"d":"2013-04-28","v":15.24,"g":"r4"},{"d":"2013-05-28","v":15.96,"g":"r4"},
{"d":"2014-08-28","v":28.65,"g":"r5"},{"d":"2014-09-28","v":28.92,"g":"r5"},{"d":"2014-10-28","v":28.37,"g":"r5"},{"d":"2014-11-28","v":27.78,"g":"r5"},{"d":"2014-12-28","v":27.43,"g":"r5"},
{"d":"2015-01-28","v":27.33,"g":"r5"},{"d":"2015-02-28","v":27.52,"g":"r5"},{"d":"2015-03-28","v":27.87,"g":"r5"},{"d":"2015-04-28","v":28.65,"g":"r5"},{"d":"2015-05-28","v":28.92,"g":"r5"},{"d":"2015-06-28","v":28.88,"g":"r5"},{"d":"2015-07-28","v":28.98,"g":"r5"},{"d":"2015-08-28","v":28.5,"g":"r5"},{"d":"2015-09-28","v":27.68,"g":"r5"},{"d":"2015-10-28","v":27.32,"g":"r5"},{"d":"2015-11-28","v":27.38,"g":"r5"},{"d":"2015-12-28","v":27.25,"g":"r5"},
{"d":"2016-01-28","v":25.95,"g":"r5"},{"d":"2016-02-28","v":24.73,"g":"r5"},{"d":"2016-03-28","v":24.67,"g":"r5"},{"d":"2016-04-28","v":24.57,"g":"r5"},{"d":"2016-05-28","v":24.17,"g":"r5"},{"d":"2016-06-28","v":24.22,"g":"r5"},{"d":"2016-07-28","v":24.77,"g":"r5"},{"d":"2016-08-28","v":25.57,"g":"r5"},{"d":"2016-09-28","v":25.6,"g":"r5"},
{"d":"2001-08-28","v":5.3,"g":"f1"},{"d":"2001-09-28","v":5.12,"g":"f1"},{"d":"2001-10-28","v":4.78,"g":"f1"},{"d":"2001-11-28","v":4.6,"g":"f1"},
{"d":"2007-06-28","v":27.83,"g":"f2"},{"d":"2007-07-28","v":27.15,"g":"f2"},{"d":"2007-08-28","v":24.97,"g":"f2"},{"d":"2007-09-28","v":23.32,"g":"f2"},
{"d":"2007-12-28","v":24.4,"g":"f3"},{"d":"2008-01-28","v":22.72,"g":"f3"},{"d":"2008-02-28","v":20.9,"g":"f3"},{"d":"2008-03-28","v":20.57,"g":"f3"},
{"d":"2008-05-28","v":22.72,"g":"f4"},{"d":"2008-06-28","v":22.28,"g":"f4"},{"d":"2008-07-28","v":20.55,"g":"f4"},{"d":"2008-08-28","v":19.1,"g":"f4"},{"d":"2008-09-28","v":18.3,"g":"f4"},{"d":"2008-10-28","v":17.77,"g":"f4"},{"d":"2008-11-28","v":17.5,"g":"f4"},
{"d":"2011-06-28","v":23.38,"g":"f5"},{"d":"2011-07-28","v":22.68,"g":"f5"},{"d":"2011-08-28","v":21.48,"g":"f5"},{"d":"2011-09-28","v":20.5,"g":"f5"},{"d":"2011-10-28","v":19.6,"g":"f5"},{"d":"2011-11-28","v":18.87,"g":"f5"},{"d":"2011-12-28","v":18.2,"g":"f5"},{"d":"2012-01-28","v":17.93,"g":"f5"},{"d":"2012-02-28","v":17.98,"g":"f5"},{"d":"2012-03-28","v":17.32,"g":"f5"},{"d":"2012-04-28","v":15.48,"g":"f5"},{"d":"2012-05-28","v":12.97,"g":"f5"},{"d":"2012-06-28","v":11.7,"g":"f5"},{"d":"2012-07-28","v":10.97,"g":"f5"},
{"d":"2015-11-28","v":26.97,"g":"f6"},{"d":"2015-12-28","v":27.13,"g":"f6"},{"d":"2016-01-28","v":25.07,"g":"f6"},{"d":"2016-02-28","v":22.37,"g":"f6"}
],
"tl":[
{"d":"2014-02-14","v":31.65,"g":"a"},{"d":"2017-01-01","v":31.65,"g":"a"},
{"d":"2014-10-05","v":23.5,"g":"b"},{"d":"2016-02-05","v":18.55,"g":"b"}
],
"mt":[{"v":3.19},{"v":3.56},{"v":4.31},{"v":4.6},{"v":4.92},{"v":5.26},{"v":5.61},{"v":6.31},{"v":6.6},{"v":6.92},{"v":7.25},{"v":7.61},{"v":8.39},{"v":8.69},{"v":8.99},{"v":9.31},{"v":9.64},{"v":10.6},{"v":11.3},{"v":12.6},{"v":13.2},{"v":14.7},{"v":15.3},{"v":16.8},{"v":17.4},{"v":19},{"v":21},{"v":23},{"v":25},{"v":27},{"v":29},{"v":30.8},{"v":33},{"v":35}]
},
"layer":[
{"mark":{"type":"rect","fill":"#d6d6da","x2Offset":82},
 "encoding":{"x":{"datum":{"year":2001,"month":6,"date":14},"type":"temporal"},"x2":{"datum":{"year":2017,"month":10,"date":16}},"y":{"datum":37.4,"type":"quantitative"},"y2":{"datum":35.7}}},
{"data":{"name":"ma"},"mark":{"type":"line","color":"#2c9a9a","strokeWidth":1.2,"strokeDash":[1.5,1.5]},
 "encoding":{
  "x":{"field":"d","type":"temporal","title":null,"scale":{"domain":[{"year":2001,"month":6,"date":14},{"year":2017,"month":10,"date":16}],"nice":false},
   "axis":{"values":[{"year":2002},{"year":2003},{"year":2004},{"year":2005},{"year":2006},{"year":2007},{"year":2008},{"year":2009},{"year":2010},{"year":2011},{"year":2012},{"year":2013},{"year":2014},{"year":2015},{"year":2016},{"year":2017}],"format":"%Y","grid":false,"domainColor":"#222222","domainWidth":1.2,"tickColor":"#222222","tickSize":9,"labelAlign":"left","labelBaseline":"top","labelPadding":-7,"labelDx":2,"labelFont":"Liberation Sans Narrow, DejaVu Sans Condensed, Liberation Sans","labelFontSize":13,"labelColor":"#111111","labelFlush":false,"labelOverlap":false,"labelBound":false}},
  "y":{"field":"s","type":"quantitative","title":null,"scale":{"type":"log","domain":[3.149,35.63],"nice":false},
   "axis":{"orient":"right","values":[4,6,8,10,12,14,16,18,20,22,24,26,28,32,34],"format":"d","grid":false,"domainColor":"#222222","domainWidth":1.2,"tickColor":"#222222","tickSize":6,"labelPadding":4,"labelFont":"Liberation Sans Narrow, DejaVu Sans Condensed, Liberation Sans","labelFontSize":14,"labelColor":"#111111","labelOverlap":false,"labelBound":false}}}},
{"data":{"name":"ma"},"mark":{"type":"line","color":"#2c9a9a","strokeWidth":1.2,"strokeDash":[1.5,1.5]},
 "encoding":{"x":{"field":"d","type":"temporal"},"y":{"field":"f","type":"quantitative","title":null,"scale":{"type":"log","domain":[3.149,35.63],"nice":false}}}},
{"data":{"name":"red"},"mark":{"type":"line","color":"#990000","strokeWidth":1.4},
 "encoding":{"x":{"field":"d","type":"temporal"},"y":{"field":"v","type":"quantitative","title":null,"scale":{"type":"log","domain":[3.149,35.63],"nice":false}},"detail":{"field":"g"}}},
{"data":{"name":"k"},"mark":{"type":"rule","color":"#000000","strokeWidth":1.3},
 "encoding":{"x":{"field":"d","type":"temporal"},"y":{"field":"l","type":"quantitative","title":null,"scale":{"type":"log","domain":[3.149,35.63],"nice":false}},"y2":{"field":"h"}}},
{"data":{"name":"k"},"mark":{"type":"bar","width":4,"stroke":"#000000","strokeWidth":0.9},
 "encoding":{"x":{"field":"d","type":"temporal"},"y":{"field":"o","type":"quantitative","title":null,"scale":{"type":"log","domain":[3.149,35.63],"nice":false}},"y2":{"field":"c"},
  "fill":{"condition":{"test":"datum.c >= datum.o","value":"#2f9c9c"},"value":"#8b0000"}}},
{"data":{"name":"tl"},"mark":{"type":"line","color":"#1466d6","strokeWidth":2.6},
 "encoding":{"x":{"field":"d","type":"temporal"},"y":{"field":"v","type":"quantitative","title":null,"scale":{"type":"log","domain":[3.149,35.63],"nice":false}},"detail":{"field":"g"}}},
{"data":{"name":"mt"},"mark":{"type":"tick","orient":"horizontal","size":4,"thickness":1,"color":"#222222","xOffset":2,"opacity":1},
 "encoding":{"x":{"datum":{"year":2017,"month":10,"date":16},"type":"temporal"},"y":{"field":"v","type":"quantitative","title":null,"scale":{"type":"log","domain":[3.149,35.63],"nice":false}}}},
{"mark":{"type":"rule","color":"#222222","strokeWidth":1.2,"x2Offset":82},
 "encoding":{"x":{"datum":{"year":2017,"month":10,"date":16},"type":"temporal"},"x2":{"datum":{"year":2017,"month":10,"date":16}},"y":{"datum":3.149,"type":"quantitative"}}},
{"mark":{"type":"rule","color":"#444444","strokeWidth":1,"x2Offset":82},
 "encoding":{"x":{"datum":{"year":2017,"month":10,"date":16},"type":"temporal"},"x2":{"datum":{"year":2017,"month":10,"date":16}},"y":{"datum":35.63,"type":"quantitative"}}},
{"mark":{"type":"text","text":"ACS,MC - ACS CONST. - 1 d % Dif.: 1,10 Dif.: 0,325 H: 29,980 L: 29,580 D: 28-02-2017 P : 10,905","align":"left","baseline":"middle","dx":3,"font":"Liberation Sans Narrow, DejaVu Sans Condensed, Liberation Sans","fontSize":13,"color":"#2a8a8a"},
 "encoding":{"x":{"datum":{"year":2001,"month":6,"date":14},"type":"temporal"},"y":{"datum":36.5,"type":"quantitative"}}},
{"mark":{"type":"text","text":"www.visualchart.com","align":"left","baseline":"middle","font":"DejaVu Sans","fontSize":13,"fontWeight":"bold","color":"#9b9bcf"},
 "encoding":{"x":{"datum":{"year":2002,"month":2,"date":17},"type":"temporal"},"y":{"datum":3.31,"type":"quantitative"}}},
{"mark":{"type":"rule","color":"#222222","strokeWidth":1},
 "encoding":{"x":{"datum":{"year":2010},"type":"temporal"},"y":{"datum":3.24,"type":"quantitative"},"y2":{"datum":3.09}}},
{"mark":{"type":"text","text":"2010","align":"left","baseline":"alphabetic","dx":2,"font":"Liberation Sans Narrow, DejaVu Sans Condensed, Liberation Sans","fontSize":13,"color":"#111111"},
 "encoding":{"x":{"datum":{"year":2010},"type":"temporal"},"y":{"datum":3.17,"type":"quantitative"}}},
{"mark":{"type":"text","text":"←","align":"left","baseline":"middle","dx":3,"fontSize":11,"color":"#333333"},
 "encoding":{"x":{"datum":{"year":2017,"month":10,"date":16},"type":"temporal"},"y":{"datum":29.5,"type":"quantitative"}}},
{"mark":{"type":"rect","fill":"#3399ff","stroke":"#333333","strokeWidth":1,"xOffset":12,"x2Offset":56},
 "encoding":{"x":{"datum":{"year":2017,"month":10,"date":16},"type":"temporal"},"x2":{"datum":{"year":2017,"month":10,"date":16}},"y":{"datum":30.1,"type":"quantitative"},"y2":{"datum":28.9}}},
{"mark":{"type":"text","text":"29,78","align":"center","baseline":"middle","dx":35,"dy":1,"font":"DejaVu Sans Mono","fontSize":11,"color":"#ffffff"},
 "encoding":{"x":{"datum":{"year":2017,"month":10,"date":16},"type":"temporal"},"y":{"datum":29.5,"type":"quantitative"}}},
{"mark":{"type":"text","text":"←","align":"left","baseline":"middle","dx":1,"fontSize":11,"color":"#333333"},
 "encoding":{"x":{"datum":{"year":2017,"month":10,"date":16},"type":"temporal"},"y":{"datum":29.925,"type":"quantitative"}}},
{"mark":{"type":"rect","fill":"#3399ff","stroke":"#333333","strokeWidth":1,"xOffset":10,"x2Offset":52},
 "encoding":{"x":{"datum":{"year":2017,"month":10,"date":16},"type":"temporal"},"x2":{"datum":{"year":2017,"month":10,"date":16}},"y":{"datum":30.6,"type":"quantitative"},"y2":{"datum":29.28}}},
{"mark":{"type":"text","text":"29,925","align":"center","baseline":"middle","dx":31,"font":"DejaVu Sans Mono","fontSize":11,"color":"#ffffff"},
 "encoding":{"x":{"datum":{"year":2017,"month":10,"date":16},"type":"temporal"},"y":{"datum":29.925,"type":"quantitative"}}},
{"mark":{"type":"text","text":"←","align":"left","baseline":"middle","dx":1,"fontSize":11,"color":"#333333"},
 "encoding":{"x":{"datum":{"year":2017,"month":10,"date":16},"type":"temporal"},"y":{"datum":27.058,"type":"quantitative"}}},
{"mark":{"type":"rect","fill":"#3399ff","stroke":"#333333","strokeWidth":1,"xOffset":10,"x2Offset":52},
 "encoding":{"x":{"datum":{"year":2017,"month":10,"date":16},"type":"temporal"},"x2":{"datum":{"year":2017,"month":10,"date":16}},"y":{"datum":27.66,"type":"quantitative"},"y2":{"datum":26.47}}},
{"mark":{"type":"text","text":"27,058","align":"center","baseline":"middle","dx":31,"font":"DejaVu Sans Mono","fontSize":11,"color":"#ffffff"},
 "encoding":{"x":{"datum":{"year":2017,"month":10,"date":16},"type":"temporal"},"y":{"datum":27.058,"type":"quantitative"}}},
{"mark":{"type":"text","text":"_ □ ×","align":"center","baseline":"middle","dx":57,"font":"DejaVu Sans","fontSize":12,"fontWeight":"bold","color":"#222222"},
 "encoding":{"x":{"datum":{"year":2017,"month":10,"date":16},"type":"temporal"},"y":{"datum":36.5,"type":"quantitative"}}}
]
}
